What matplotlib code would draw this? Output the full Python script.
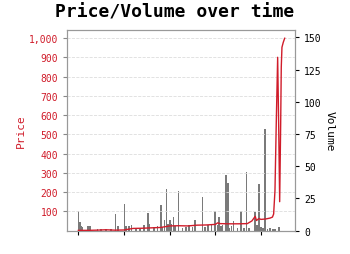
import matplotlib.pyplot as plt

# time axis in tick units (ticks at 0..4, no labels in the original)
vol_t = [0.00, 0.029, 0.058, 0.094, 0.211, 0.248, 0.416, 0.489, 0.599, 0.708,
         0.811, 0.869, 1.008, 1.044, 1.110, 1.162, 1.257, 1.351, 1.439, 1.520,
         1.549, 1.658, 1.732, 1.805, 1.834, 1.886, 1.930, 1.958, 2.002, 2.039,
         2.083, 2.119, 2.193, 2.281, 2.353, 2.426, 2.500, 2.557, 2.719, 2.770,
         2.843, 2.917, 2.996, 3.048, 3.077, 3.121, 3.158, 3.237, 3.274, 3.311,
         3.355, 3.399, 3.487, 3.559, 3.632, 3.684, 3.741, 3.873, 3.910, 3.954,
         3.998, 4.042, 4.086, 4.145, 4.202, 4.261, 4.311, 4.399]
volume = [15, 6.4, 3.7, 2.5, 3.7, 3.7, 1, 1, 1.2, 1,
          12.8, 3.7, 20.6, 3.7, 3.7, 4, 1.5, 1.5, 4, 13.9,
          5, 3, 3.7, 19.8, 3, 8.2, 32.3, 5, 8, 5,
          10.3, 3.7, 30.7, 2, 2.5, 4.5, 3, 8.5, 25.8, 3,
          4.5, 4.5, 15, 4, 10.8, 3.7, 4, 43.2, 37, 2,
          3.7, 7.5, 2, 15, 2, 45.3, 2, 14.5, 4, 36.2,
          3, 2, 79, 1.5, 2, 1.5, 1, 2.5]

price_t = [0.0, 0.2, 0.4, 0.6, 0.8, 1.0, 1.2, 1.4, 1.6, 1.8, 1.9, 2.0, 2.2, 2.4,
           2.6, 2.8, 3.0, 3.05, 3.1, 3.3, 3.5, 3.7, 3.8, 3.873, 3.90, 3.95,
           4.0, 4.1, 4.2, 4.25, 4.276, 4.305, 4.333, 4.364, 4.386, 4.408,
           4.430, 4.443, 4.458, 4.487, 4.518]
price = [1, 1, 2, 4, 2, 3, 11, 12, 14, 16, 20, 24, 25, 24,
         28, 29, 32, 40, 36, 35, 35, 36, 50, 74, 52, 62,
         58, 60, 65, 70, 86, 207, 554, 901, 554, 150,
         554, 849, 953, 979, 1000]

red = '#d01c2a'

plt.rcParams['font.family'] = 'DejaVu Sans Mono'

fig = plt.figure(figsize=(3.5, 2.55), dpi=100)
ax = fig.add_axes([0.192, 0.092, 0.651, 0.788])
ax2 = ax.twinx()

ax2.bar(vol_t, volume, width=0.036, color='#7a7a7a', zorder=1)
ax.plot(price_t, price, color=red, linewidth=1, zorder=3)

# price axis on top of the bars
ax.set_zorder(ax2.get_zorder() + 1)
ax.patch.set_visible(False)

ax.set_ylim(0, 1045)
ax2.set_ylim(0, 156)
ax.set_yticks(range(100, 1001, 100))
ax.set_yticklabels(['{:,}'.format(v) for v in range(100, 1001, 100)])
ax2.set_yticks([0, 25, 50, 75, 100, 125, 150])
ax.set_xticks([0, 1, 2, 3, 4])
ax.set_xticklabels([])

ax.grid(axis='y', linestyle='--', color='#dddddd', linewidth=0.6)
ax.tick_params(axis='y', colors='#888888', labelcolor=red, labelsize=7, length=3)
ax2.tick_params(axis='y', labelsize=7, length=3)
ax.tick_params(axis='x', length=3)
for a in (ax, ax2):
    for s in a.spines.values():
        s.set_color('#999999')

ax.set_ylabel('Price', color=red, fontsize=8, labelpad=2)
ax2.set_ylabel('Volume', fontsize=8, rotation=270, labelpad=9)
fig.text(0.5, 0.95, 'Price/Volume over time', ha='center', va='center',
         fontsize=13, fontweight='bold')

plt.savefig('out.png')
